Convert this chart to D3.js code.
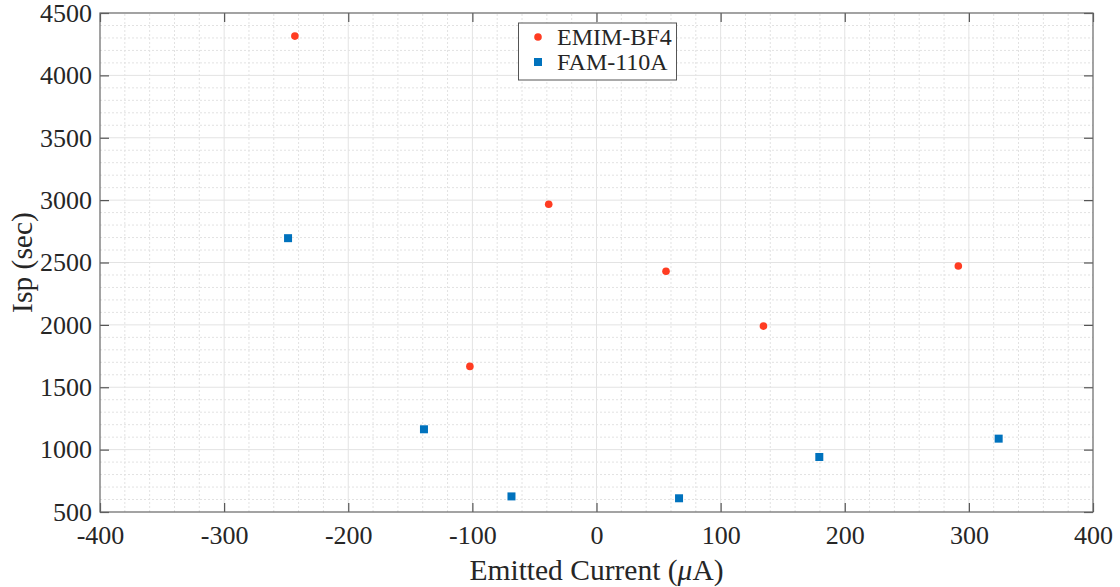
<!DOCTYPE html>
<html>
<head>
<meta charset="utf-8">
<script src="https://cdn.jsdelivr.net/npm/d3@7"></script>
<style>
  html, body { margin: 0; padding: 0; background: #fff; }
  svg text { font-family: "Liberation Serif", "Times New Roman", serif; fill: #262626; }
</style>
</head>
<body>
<svg id="chart" width="1120" height="587"></svg>
<script>
// Specific impulse versus emitted current for two propellants
const emimCurrent = [-243, -102, -38.5, 56, 134.5, 291.5];
const emimIsp     = [4315, 1667, 2967, 2430, 1990, 2472];

const famCurrent  = [-248.5, -139, -68.5, 66.5, 179.5, 324];
const famIsp      = [2695, 1163, 625, 610, 941, 1088];

const xTicks = [-400, -300, -200, -100, 0, 100, 200, 300, 400];
const yTicks = [500, 1000, 1500, 2000, 2500, 3000, 3500, 4000, 4500];

const seriesNames = ["EMIM-BF4", "FAM-110A"];
const seriesColors = ["#ff3c22", "#0072bd"];

(function draw() {
  const svg = d3.select("#chart");
  const margin = { left: 100, right: 27, top: 13, bottom: 75 };
  const W = 1120, H = 587;
  const x0 = margin.left, x1 = W - margin.right;
  const y0 = H - margin.bottom, y1 = margin.top;
  const serif = '"Liberation Serif", "Times New Roman", serif';

  const x = d3.scaleLinear().domain([-400, 400]).range([x0, x1]);
  const y = d3.scaleLinear().domain([500, 4500]).range([y0, y1]);

  const g = svg.append("g");

  // minor grid (dotted)
  const xMinor = d3.range(-400, 401, 20).filter(v => v % 100 !== 0);
  const yMinor = d3.range(500, 4501, 100).filter(v => v % 500 !== 0);
  g.selectAll(".xminor").data(xMinor).join("line")
    .attr("x1", d => x(d)).attr("x2", d => x(d)).attr("y1", y0).attr("y2", y1)
    .attr("stroke", "#e2e2e2").attr("stroke-width", 1).attr("stroke-dasharray", "2,2");
  g.selectAll(".yminor").data(yMinor).join("line")
    .attr("y1", d => y(d)).attr("y2", d => y(d)).attr("x1", x0).attr("x2", x1)
    .attr("stroke", "#e2e2e2").attr("stroke-width", 1).attr("stroke-dasharray", "2,2");

  // major grid (solid)
  g.selectAll(".xmajor").data(xTicks.slice(1, -1)).join("line")
    .attr("x1", d => x(d)).attr("x2", d => x(d)).attr("y1", y0).attr("y2", y1)
    .attr("stroke", "#e3e3e3").attr("stroke-width", 1);
  g.selectAll(".ymajor").data(yTicks.slice(1, -1)).join("line")
    .attr("y1", d => y(d)).attr("y2", d => y(d)).attr("x1", x0).attr("x2", x1)
    .attr("stroke", "#e3e3e3").attr("stroke-width", 1);

  // axes with inward ticks on all four sides
  const fmt = d => String(d);
  function styleAxis(sel) {
    sel.attr("font-family", serif);
    sel.select(".domain").remove();
    sel.selectAll(".tick line").attr("stroke", "#555").attr("stroke-width", 1.2);
    sel.selectAll(".tick text").style("font-size", "26px").attr("fill", "#262626");
  }
  const axBottom = svg.append("g").attr("transform", `translate(0,${y0})`)
    .call(d3.axisBottom(x).tickValues(xTicks).tickSize(-9).tickPadding(19).tickFormat(fmt));
  styleAxis(axBottom);
  const axTop = svg.append("g").attr("transform", `translate(0,${y1})`)
    .call(d3.axisTop(x).tickValues(xTicks).tickSize(-9).tickFormat(""));
  styleAxis(axTop);
  const axLeft = svg.append("g").attr("transform", `translate(${x0},0)`)
    .call(d3.axisLeft(y).tickValues(yTicks).tickSize(-9).tickPadding(8).tickFormat(fmt));
  styleAxis(axLeft);
  const axRight = svg.append("g").attr("transform", `translate(${x1},0)`)
    .call(d3.axisRight(y).tickValues(yTicks).tickSize(-9).tickFormat(""));
  styleAxis(axRight);
  axBottom.selectAll(".tick text").attr("dy", "0.5em");

  // frame
  svg.append("rect").attr("x", x0).attr("y", y1).attr("width", x1 - x0).attr("height", y0 - y1)
    .attr("fill", "none").attr("stroke", "#666").attr("stroke-width", 1.2);

  // markers
  svg.append("g").selectAll("circle")
    .data(d3.zip(emimCurrent, emimIsp)).join("circle")
    .attr("cx", d => x(d[0])).attr("cy", d => y(d[1])).attr("r", 3.8)
    .attr("fill", seriesColors[0]);

  const s = 8;
  svg.append("g").selectAll("rect")
    .data(d3.zip(famCurrent, famIsp)).join("rect")
    .attr("x", d => x(d[0]) - s / 2).attr("y", d => y(d[1]) - s / 2)
    .attr("width", s).attr("height", s)
    .attr("fill", seriesColors[1]);

  // axis titles
  svg.append("text").attr("x", (x0 + x1) / 2).attr("y", 580)
    .attr("text-anchor", "middle").style("font-size", "29.5px")
    .html('Emitted Current (<tspan font-style="italic">μ</tspan>A)');
  svg.append("text")
    .attr("transform", `translate(32,${(y0 + y1) / 2}) rotate(-90)`)
    .attr("text-anchor", "middle").style("font-size", "29.5px")
    .text("Isp (sec)");

  // legend
  const lg = svg.append("g");
  lg.append("rect").attr("x", 518.5).attr("y", 23).attr("width", 158).attr("height", 57)
    .attr("fill", "#fff").attr("stroke", "#555").attr("stroke-width", 1);
  const rowY = [37, 62];
  seriesNames.forEach((name, i) => {
    if (i === 0) {
      lg.append("circle").attr("cx", 538).attr("cy", rowY[i]).attr("r", 3.8).attr("fill", seriesColors[i]);
    } else {
      lg.append("rect").attr("x", 538 - s / 2).attr("y", rowY[i] - s / 2)
        .attr("width", s).attr("height", s).attr("fill", seriesColors[i]);
    }
    lg.append("text").attr("x", 557).attr("y", rowY[i] + 8)
      .style("font-size", "24px").attr("fill", "#000").text(name);
  });
})();
</script>
</body>
</html>
